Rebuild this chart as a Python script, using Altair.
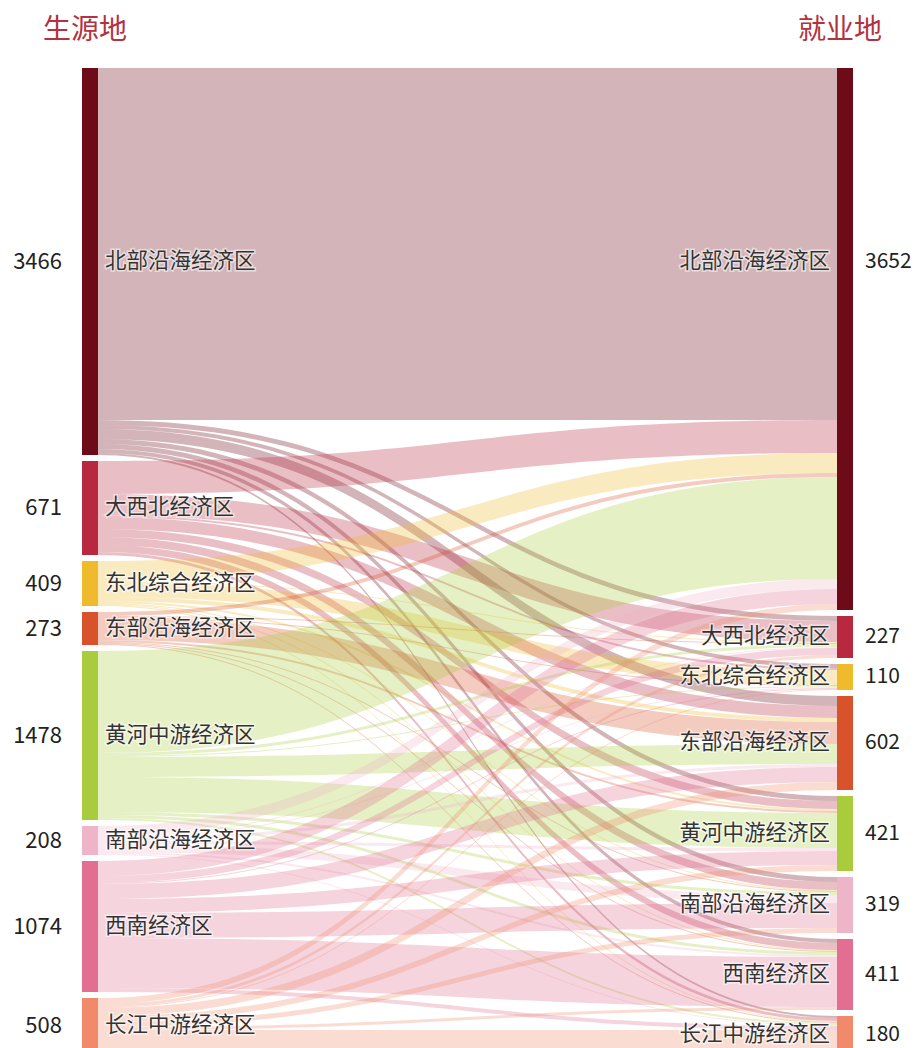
import altair as alt
import pandas as pd
import numpy as np

# ---------------- data ----------------
regions = ["北部沿海经济区", "大西北经济区", "东北综合经济区", "东部沿海经济区",
           "黄河中游经济区", "南部沿海经济区", "西南经济区", "长江中游经济区"]
node_colors = ["#6e0b18", "#b8283f", "#efbb2c", "#d8532c",
               "#a9cc3d", "#eeb5c8", "#e26f92", "#f08a6a"]
origin_values = [3466, 671, 409, 273, 1478, 208, 1074, 508]   # 生源地
dest_values = [3652, 227, 110, 602, 421, 319, 411, 180]        # 就业地

# flow widths (rows: 生源地, columns: 就业地)
flows = [
    [352, 5, 4, 10, 5, 5, 4, 2],
    [33, 21, 2, 12, 8, 8, 7, 3],
    [20, 1, 15, 4, 2, 1, 1, 1],
    [4, 1, 1, 22, 2, 1, 1, 1],
    [102, 3, 1, 20, 35, 3, 3, 2],
    [10, 1, 1, 3, 3, 8, 2, 1],
    [15, 7, 1, 15, 14, 25, 50, 4],
    [6, 3, 1, 8, 6, 5, 3, 23],
]

# ---------------- layout (sankey) ----------------
W, H = 906, 1060
GAP, TOP = 6, 60
LX, RX, NW = 74, 829, 16
n = len(regions)
F = np.array(flows, dtype=float)
src_tot = F.sum(axis=1)
dst_tot = F.sum(axis=0)

def stack(tots):
    y0 = []
    y = TOP
    for t in tots:
        y0.append(y)
        y += t + GAP
    return np.array(y0)

src_y0 = stack(src_tot)
dst_y0 = stack(dst_tot)

nodes = []
for i in range(n):
    nodes.append(dict(name=regions[i], side="L", x=float(LX), x2=float(LX + NW),
                      y=float(src_y0[i]), y2=float(src_y0[i] + src_tot[i]),
                      cy=float(src_y0[i] + src_tot[i] / 2), color=node_colors[i],
                      val=str(origin_values[i])))
for j in range(n):
    cy = dst_y0[j] + dst_tot[j] / 2
    if j == 0:  # label of the tall top node sits level with the left one
        cy = src_y0[0] + src_tot[0] / 2
    nodes.append(dict(name=regions[j], side="R", x=float(RX), x2=float(RX + NW),
                      y=float(dst_y0[j]), y2=float(dst_y0[j] + dst_tot[j]),
                      cy=float(cy), color=node_colors[j],
                      val=str(dest_values[j])))
nodes_df = pd.DataFrame(nodes)

# link ribbons (horizontal cubic bezier like d3-sankey)
t = np.linspace(0, 1, 60)
xf = 1.5 * t * (1 - t) + t ** 3
yf = 3 * t ** 2 - 2 * t ** 3
x0, x1 = LX + NW, RX
src_off = src_y0.astype(float).copy()
dst_off = dst_y0.astype(float).copy()
sy = np.zeros((n, n))
ty = np.zeros((n, n))
for i in range(n):
    for j in range(n):
        sy[i, j] = src_off[i]
        src_off[i] += F[i, j]
for j in range(n):
    for i in range(n):
        ty[i, j] = dst_off[j]
        dst_off[j] += F[i, j]

rows = []
lid = 0
for i in range(n):
    for j in range(n):
        v = F[i, j]
        if v <= 0:
            continue
        for k in range(len(t)):
            yt = sy[i, j] + (ty[i, j] - sy[i, j]) * yf[k]
            rows.append(dict(link=f"L{lid}", x=float(x0 + (x1 - x0) * xf[k]),
                             y=float(yt), y2=float(yt + v), color=node_colors[i]))
        lid += 1
links_df = pd.DataFrame(rows)

titles_df = pd.DataFrame([
    dict(text="生源地", x=float(LX + 3), y=23.0),
    dict(text="就业地", x=float(RX + 3), y=23.0),
])

xs = alt.Scale(domain=[0, W], nice=False, zero=False)
ys = alt.Scale(domain=[0, H], nice=False, zero=False, reverse=True)
FONT = "Noto Sans CJK SC"

links = alt.Chart(links_df).mark_area(opacity=0.3, interpolate="linear").encode(
    x=alt.X("x:Q", scale=xs, axis=None),
    y=alt.Y("y:Q", scale=ys, axis=None, stack=None),
    y2="y2:Q",
    detail="link:N",
    color=alt.Color("color:N", scale=None),
)

rects = alt.Chart(nodes_df).mark_rect().encode(
    x=alt.X("x:Q", scale=xs, axis=None),
    x2="x2:Q",
    y=alt.Y("y:Q", scale=ys, axis=None),
    y2="y2:Q",
    color=alt.Color("color:N", scale=None),
)

left = nodes_df[nodes_df.side == "L"]
right = nodes_df[nodes_df.side == "R"]

def label_layer(df, dx, align, field, size, color, halo=False):
    kw = dict(align=align, baseline="middle", dx=dx, font=FONT, fontSize=size)
    if halo:
        kw.update(stroke="white", strokeWidth=3, strokeOpacity=0.55, fill="white")
    else:
        kw.update(fill=color)
    return alt.Chart(df).mark_text(**kw).encode(
        x=alt.X("x:Q", scale=xs, axis=None),
        y=alt.Y("cy:Q", scale=ys, axis=None),
        text=f"{field}:N",
    )

NAME_SIZE = 21.5
left_name_halo = label_layer(left.assign(x=left.x2), 7, "left", "name", NAME_SIZE, "#333", True)
left_name = label_layer(left.assign(x=left.x2), 7, "left", "name", NAME_SIZE, "#333333")
right_name_halo = label_layer(right, -7, "right", "name", NAME_SIZE, "#333", True)
right_name = label_layer(right, -7, "right", "name", NAME_SIZE, "#333333")
left_val = label_layer(left, -20, "right", "val", 22, "#222222")
right_val = label_layer(right.assign(x=right.x2), 12, "left", "val", 21, "#222222")

titles = alt.Chart(titles_df).mark_text(
    align="center", baseline="middle", font=FONT, fontSize=28, fill="#b3323f"
).encode(
    x=alt.X("x:Q", scale=xs, axis=None),
    y=alt.Y("y:Q", scale=ys, axis=None),
    text="text:N",
)

chart = alt.layer(
    links, rects, left_name_halo, left_name, right_name_halo, right_name,
    left_val, right_val, titles
).properties(
    width=W, height=H, padding=0, autosize=alt.AutoSizeParams(type="none")
).configure_view(stroke=None)

chart.save("out.html", embed_options={"renderer": "svg", "actions": False})
